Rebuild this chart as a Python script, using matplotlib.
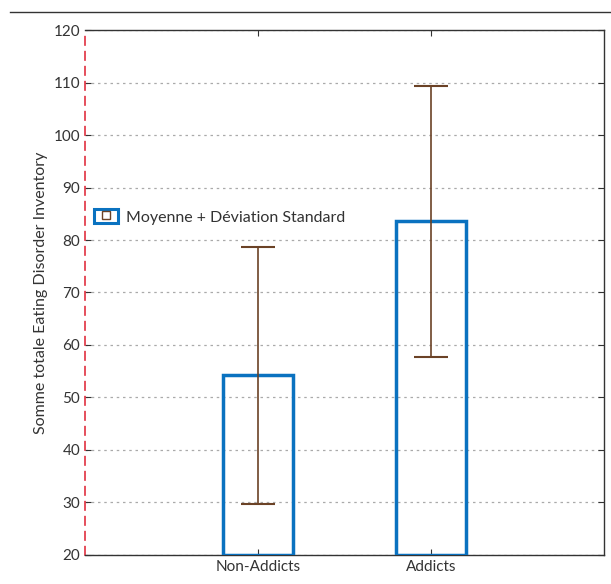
import matplotlib.pyplot as plt
from matplotlib.lines import Line2D
from matplotlib.patches import Rectangle
from matplotlib.legend_handler import HandlerTuple

# === Data ===
groups = ['Non-Addicts', 'Addicts']
means = [54.2, 83.6]
sds = [24.5, 25.8]
yticks = [20, 30, 40, 50, 60, 70, 80, 90, 100, 110, 120]

blue = '#0a72c0'
brown = '#6b4226'
txt = '#333333'

plt.rcParams['font.family'] = ['Lato', 'DejaVu Sans']

fig = plt.figure(figsize=(6.11, 5.84), dpi=100)
ax = fig.add_axes([0.139, 0.0497, 0.8495, 0.8989])

x = [1, 2]
ax.bar(x, [m - 20 for m in means], bottom=20, width=0.4,
       facecolor='none', edgecolor=blue, linewidth=2.5, zorder=3)
ax.errorbar(x, means, yerr=sds, fmt='none', ecolor=brown,
            elinewidth=1.2, capsize=12, capthick=1.5, zorder=4)

ax.set_xlim(0, 3)
ax.set_ylim(20, 120)
ax.set_yticks(yticks)
ax.set_xticks(x)
ax.set_xticklabels(groups, fontsize=11, color=txt)
ax.tick_params(axis='y', labelsize=11, labelcolor=txt)
ax.tick_params(axis='both', direction='in', length=4, color='#333333',
               top=True, right=True)
ax.tick_params(axis='y', which='both', left=True, colors=txt)
for t in ax.yaxis.get_ticklines()[::2]:
    t.set_color('#e03040')
ax.grid(axis='y', linestyle=(0, (2, 3)), color='#aaaaaa', linewidth=0.9)
ax.set_axisbelow(True)

for s in ['top', 'right', 'bottom']:
    ax.spines[s].set_color('#333333')
    ax.spines[s].set_linewidth(1.0)
ax.spines['left'].set_color('#e03040')
ax.spines['left'].set_linestyle((0, (5, 4)))
ax.spines['left'].set_linewidth(1.2)

ax.set_ylabel('Somme totale Eating Disorder Inventory', fontsize=11.5,
              color=txt, labelpad=4)

# === Legend ===
outer = Rectangle((0, 0), 1, 1, facecolor='white', edgecolor=blue,
                  linewidth=2.2)
inner = Line2D([], [], marker='s', markersize=5.5, markerfacecolor='white',
               markeredgecolor=brown, markeredgewidth=1.0, linestyle='none')
ax.legend([(outer, inner)], ['Moyenne + Déviation Standard'],
          handler_map={tuple: HandlerTuple(ndivide=1, pad=0)},
          loc='upper left', bbox_to_anchor=(0.0, 0.676), frameon=False,
          fontsize=11.5, handlelength=1.5, handleheight=1.0,
          handletextpad=0.5, borderaxespad=0.15, labelcolor=txt)

# === Header rule ===
fig.add_artist(Line2D([0.016, 1.0], [0.979, 0.979], color='#333333',
                      linewidth=1.0, transform=fig.transFigure))

fig.savefig('out.png', dpi=100)
